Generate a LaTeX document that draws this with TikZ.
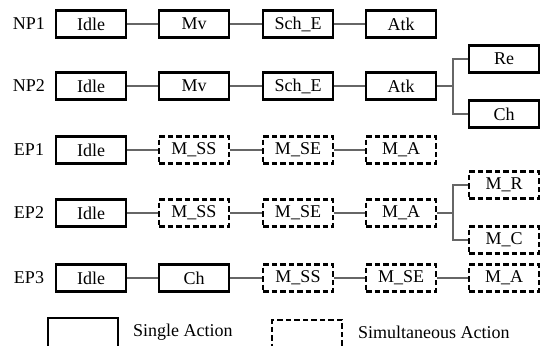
\documentclass[tikz,border=0pt]{standalone}
\usepackage{fontspec}
\setmainfont{Liberation Serif}

\begin{document}
\begin{tikzpicture}[x=1pt,y=-1pt,font=\fontsize{18}{20}\selectfont,
  single/.style={draw,line width=2.3pt,minimum width=70pt,minimum height=27pt,inner sep=0pt},
  simul/.style={single,dash pattern=on 5.5pt off 3pt},
  link/.style={draw=black!60,line width=1.3pt},
  tag/.style={inner sep=0pt}]

\clip (0,0) rectangle (540,345);

% rows
\node[tag] (np1) at (29,24) {NP1};
\node[single] (np1a) at (91,24) {Idle};
\node[single] (np1b) at (194,24) {Mv};
\node[single] (np1c) at (298,24) {Sch\_E};
\node[single] (np1d) at (401,24) {Atk};
\draw[link] (np1a) -- (np1b) -- (np1c) -- (np1d);

\node[tag] (np2) at (29,86) {NP2};
\node[single] (np2a) at (91,86) {Idle};
\node[single] (np2b) at (194,86) {Mv};
\node[single] (np2c) at (298,86) {Sch\_E};
\node[single] (np2d) at (401,86) {Atk};
\node[single] (np2e) at (504,59) {Re};
\node[single] (np2f) at (504,114) {Ch};
\coordinate (br2) at (453,86);
\draw[link] (np2a) -- (np2b) -- (np2c) -- (np2d);
\draw[link] (np2d.east) -- (br2);
\draw[link] (np2e.west) -| (br2) |- (np2f.west);

\node[tag] (ep1) at (29,150) {EP1};
\node[single] (ep1a) at (91,150) {Idle};
\node[simul] (ep1b) at (194,150) {M\_SS};
\node[simul] (ep1c) at (298,150) {M\_SE};
\node[simul] (ep1d) at (401,150) {M\_A};
\draw[link] (ep1a) -- (ep1b) -- (ep1c) -- (ep1d);

\node[tag] (ep2) at (29,213) {EP2};
\node[single] (ep2a) at (91,213) {Idle};
\node[simul] (ep2b) at (194,213) {M\_SS};
\node[simul] (ep2c) at (298,213) {M\_SE};
\node[simul] (ep2d) at (401,213) {M\_A};
\node[simul] (ep2e) at (504,185) {M\_R};
\node[simul] (ep2f) at (504,240) {M\_C};
\coordinate (br4) at (453,213);
\draw[link] (ep2a) -- (ep2b) -- (ep2c) -- (ep2d);
\draw[link] (ep2d.east) -- (br4);
\draw[link] (ep2e.west) -| (br4) |- (ep2f.west);

\node[tag] (ep3) at (29,278) {EP3};
\node[single] (ep3a) at (91,278) {Idle};
\node[single] (ep3b) at (194,278) {Ch};
\node[simul] (ep3c) at (298,278) {M\_SS};
\node[simul] (ep3d) at (401,278) {M\_SE};
\node[simul] (ep3e) at (504,278) {M\_A};
\draw[link] (ep3a) -- (ep3b) -- (ep3c) -- (ep3d) -- (ep3e);

% legend
\node[single,anchor=north west,minimum height=32pt] (key1) at (47,317) {};
\node[anchor=west,inner sep=0pt] (key1t) at (133,332) {Single Action};
\node[simul,anchor=north west,minimum height=32pt] (key2) at (271,319) {};
\node[anchor=west,inner sep=0pt] (key2t) at (358,332) {Simultaneous Action};

\end{tikzpicture}
\end{document}
